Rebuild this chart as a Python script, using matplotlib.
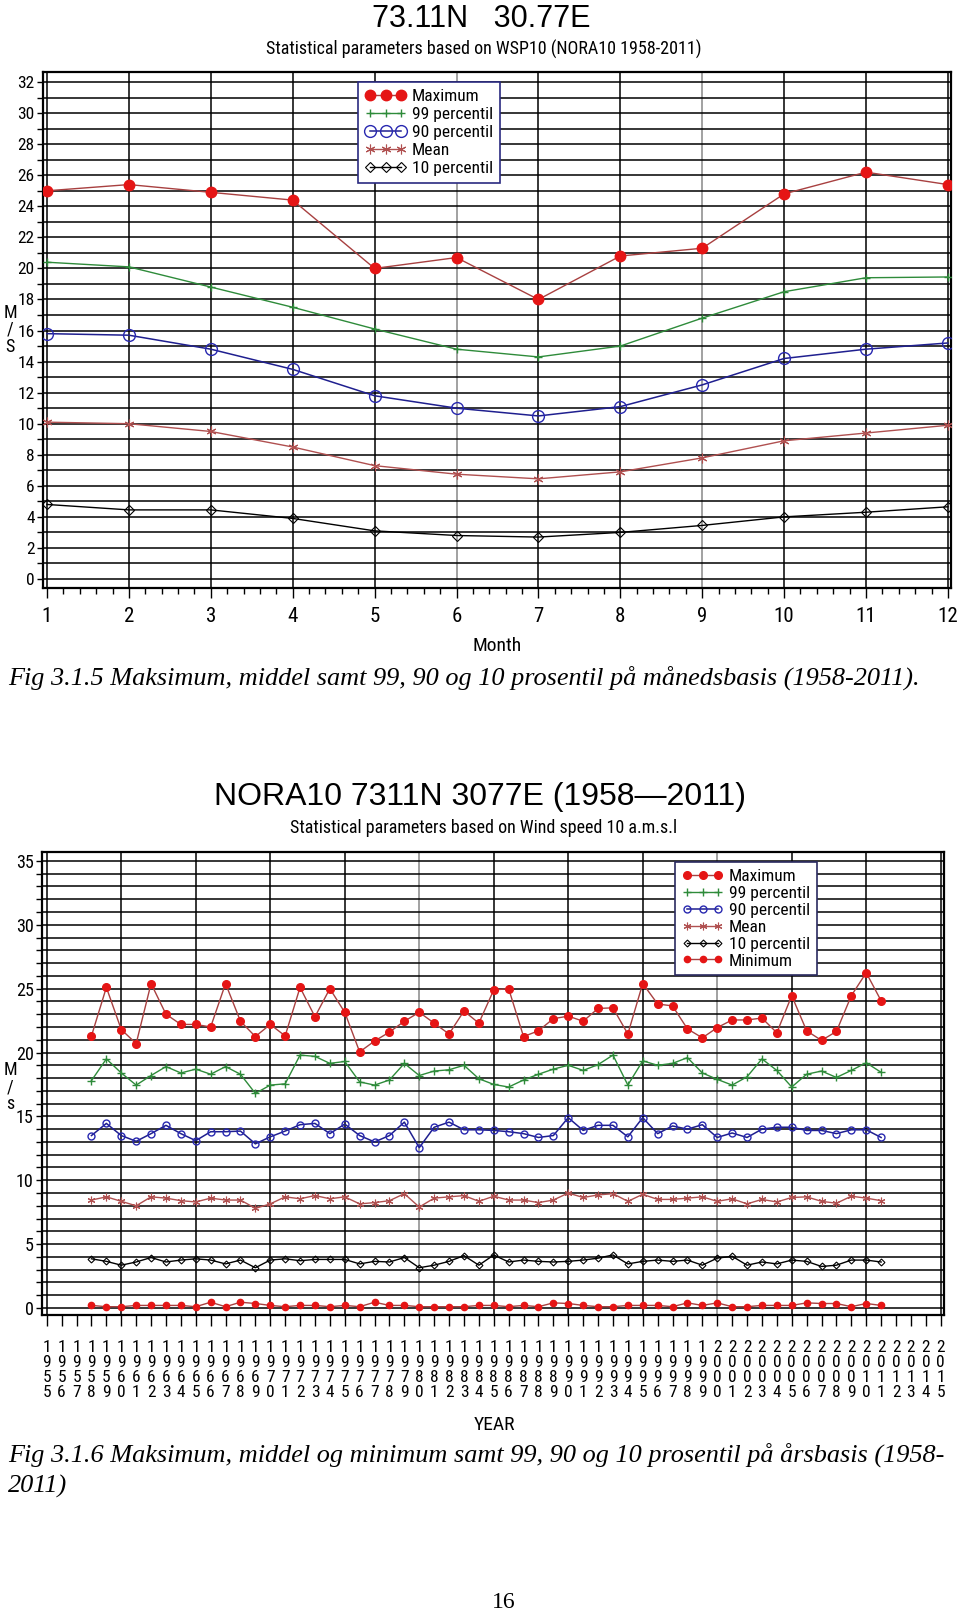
import os
import matplotlib
matplotlib.use("Agg")
import matplotlib.pyplot as plt
import matplotlib.font_manager as fm
from matplotlib.ticker import MultipleLocator

# ---------------- data: monthly (Fig 3.1.5) ----------------
months = list(range(1, 13))
m_max = [25.0, 25.4, 24.9, 24.4, 20.0, 20.7, 18.0, 20.8, 21.3, 24.8, 26.2, 25.4]
m_p99 = [20.4, 20.1, 18.8, 17.5, 16.1, 14.8, 14.3, 15.0, 16.8, 18.5, 19.4, 19.45]
m_p90 = [15.8, 15.7, 14.8, 13.5, 11.8, 11.0, 10.5, 11.1, 12.5, 14.2, 14.8, 15.2]
m_mean = [10.1, 10.0, 9.5, 8.5, 7.3, 6.75, 6.45, 6.9, 7.8, 8.9, 9.4, 9.9]
m_p10 = [4.8, 4.45, 4.45, 3.9, 3.1, 2.8, 2.7, 3.0, 3.45, 4.0, 4.3, 4.65]
month_ticks = list(range(1, 13))
month_yticks = list(range(0, 33, 2))

# ---------------- data: yearly (Fig 3.1.6) ----------------
years = list(range(1958, 2012))
y_max = [21.3, 25.1, 21.8, 20.7, 25.4, 23.0, 22.2, 22.2, 22.0, 25.4,
         22.45, 21.25, 22.2, 21.3, 25.1, 22.8, 25.0, 23.15, 20.05, 20.9,
         21.6, 22.45, 23.15, 22.3, 21.45, 23.25, 22.3, 24.9, 25.0, 21.25,
         21.7, 22.65, 22.85, 22.45, 23.45, 23.5, 21.45, 25.4, 23.8, 23.65,
         21.85, 21.15, 21.95, 22.55, 22.55, 22.7, 21.55, 24.45, 21.7, 20.95,
         21.65, 24.45, 26.25, 24.05]
y_p99 = [17.8, 19.5, 18.4, 17.45, 18.2, 18.9, 18.4, 18.7, 18.3, 18.9,
         18.3, 16.8, 17.45, 17.55, 19.8, 19.7, 19.15, 19.3, 17.7, 17.45,
         17.85, 19.15, 18.2, 18.55, 18.65, 19.0, 17.95, 17.5, 17.3, 17.85,
         18.3, 18.7, 19.0, 18.6, 19.05, 19.8, 17.45, 19.35, 19.0, 19.15,
         19.6, 18.4, 17.9, 17.45, 18.1, 19.5, 18.6, 17.3, 18.3, 18.55,
         18.05, 18.6, 19.2, 18.45]
y_p90 = [13.5, 14.45, 13.5, 13.05, 13.65, 14.3, 13.65, 13.1, 13.8, 13.8,
         13.85, 12.85, 13.4, 13.85, 14.35, 14.45, 13.65, 14.4, 13.5, 13.0,
         13.5, 14.55, 12.55, 14.15, 14.55, 13.95, 13.95, 13.9, 13.8, 13.65,
         13.35, 13.5, 14.9, 13.9, 14.3, 14.3, 13.4, 14.9, 13.65, 14.25,
         14.0, 14.35, 13.35, 13.7, 13.35, 14.0, 14.15, 14.15, 13.9, 13.9,
         13.65, 13.95, 13.95, 13.35]
y_mean = [8.45, 8.7, 8.35, 8.0, 8.7, 8.6, 8.4, 8.3, 8.6, 8.45,
          8.45, 7.8, 8.15, 8.7, 8.55, 8.8, 8.55, 8.7, 8.15, 8.25,
          8.4, 8.95, 7.9, 8.6, 8.7, 8.8, 8.35, 8.75, 8.45, 8.45,
          8.25, 8.45, 9.0, 8.65, 8.85, 8.95, 8.35, 8.9, 8.5, 8.5,
          8.6, 8.7, 8.35, 8.55, 8.15, 8.5, 8.3, 8.65, 8.7, 8.35,
          8.2, 8.75, 8.6, 8.4]
y_p10 = [3.85, 3.65, 3.35, 3.6, 3.95, 3.6, 3.75, 3.85, 3.75, 3.45,
         3.75, 3.15, 3.75, 3.85, 3.7, 3.8, 3.8, 3.8, 3.45, 3.65,
         3.6, 3.95, 3.15, 3.35, 3.65, 4.1, 3.35, 4.15, 3.6, 3.75,
         3.65, 3.6, 3.65, 3.75, 3.9, 4.15, 3.45, 3.65, 3.75, 3.65,
         3.75, 3.35, 3.9, 4.05, 3.35, 3.6, 3.45, 3.75, 3.65, 3.25,
         3.35, 3.75, 3.75, 3.6]
y_min = [0.2, 0.1, 0.1, 0.2, 0.2, 0.2, 0.2, 0.1, 0.45, 0.1,
         0.45, 0.35, 0.2, 0.1, 0.2, 0.2, 0.1, 0.2, 0.1, 0.45,
         0.2, 0.2, 0.1, 0.1, 0.1, 0.1, 0.2, 0.2, 0.1, 0.2,
         0.1, 0.4, 0.35, 0.2, 0.1, 0.1, 0.2, 0.2, 0.2, 0.1,
         0.4, 0.2, 0.4, 0.1, 0.1, 0.2, 0.2, 0.2, 0.4, 0.35,
         0.35, 0.1, 0.35, 0.2]
year_ticks = list(range(1955, 2016))
year_grid = list(range(1955, 2016, 5))
year_yticks = list(range(0, 36, 5))

labels_m = ["Maximum", "99 percentil", "90 percentil", "Mean", "10 percentil"]
labels_y = labels_m + ["Minimum"]

# ---------------- narrow font lookup ----------------
def find_narrow():
    files = {}
    for f in fm.fontManager.ttflist:
        files.setdefault(os.path.basename(f.fname).lower(), f.fname)
    prefs = ["notosans-extracondensed.ttf", "notosans-extracondensedlight.ttf",
             "liberationsansnarrow-regular.ttf", "robotocondensed-regular.ttf",
             "robotocondensed-light.ttf", "opensans_condensed-regular.ttf",
             "opensans-condensedlight.ttf", "notosans-condensed.ttf",
             "dejavusanscondensed.ttf"]
    for p in prefs:
        if p in files:
            return files[p]
    for name, path in files.items():
        if ("condensed" in name or "narrow" in name) and "bold" not in name \
                and "italic" not in name and "oblique" not in name:
            return path
    return None


NARROW_PATH = find_narrow()


def nfont(size):
    if NARROW_PATH:
        return fm.FontProperties(fname=NARROW_PATH, size=size)
    return fm.FontProperties(family="DejaVu Sans", size=size)


# ---------------- styling ----------------
c_maxl, c_maxm = "#a84040", "#e51515"
c_99 = "#2e8b3a"
c_90 = "#1f1f8f"
c_mean = "#b05050"
c_10 = "#000000"
SERIF = ["Liberation Serif", "DejaVu Serif"]

W, H = 960, 1613
fig = plt.figure(figsize=(W / 100, H / 100), dpi=100)


def fx(px):
    return px / W


def fy(py):
    return 1 - py / H


def style_axes(ax, xsize, ysize):
    for s in ax.spines.values():
        s.set_linewidth(1.6)
        s.set_color("black")
    ax.tick_params(axis="both", which="both", direction="out", colors="black",
                   width=1.0)
    for lab in ax.get_xticklabels():
        lab.set_fontproperties(nfont(xsize))
    for lab in ax.get_yticklabels():
        lab.set_fontproperties(nfont(ysize))


# ================= top chart =================
ax1 = fig.add_axes([fx(43), fy(588), fx(908), 516 / H])
ax1.set_xlim(0.951, 12.038)
ax1.set_ylim(-0.58, 32.65)
ax1.set_xticks(month_ticks)
ax1.xaxis.set_minor_locator(MultipleLocator(0.2))
ax1.set_yticks(month_yticks)
ax1.yaxis.set_minor_locator(MultipleLocator(1))
ax1.grid(which="both", axis="y", color="black", lw=1.1)
ax1.grid(which="major", axis="x", color="black", lw=1.1)
for i, gl in enumerate(ax1.get_xgridlines()):
    if month_ticks[i] in (6, 9):
        gl.set_color("#888888")
ax1.tick_params(axis="x", which="major", length=7, pad=7)
ax1.tick_params(axis="x", which="minor", length=4)
ax1.tick_params(axis="y", which="both", length=4, pad=2)
style_axes(ax1, 15, 12.5)

ax1.plot(months, m_max, color=c_maxl, lw=1.0, marker="o", ms=7.5,
         mfc=c_maxm, mec=c_maxm, label=labels_m[0], zorder=5)
ax1.plot(months, m_p99, color=c_99, lw=1.0, marker="+", ms=6,
         mew=1.0, label=labels_m[1], zorder=5)
ax1.plot(months, m_p90, color=c_90, lw=1.1, marker="o", ms=8.5,
         mfc="none", mec="#2828b0", mew=1.0, label=labels_m[2], zorder=5)
ax1.plot(months, m_mean, color=c_mean, lw=1.0, marker=(6, 2, 0), ms=7,
         mew=0.8, label=labels_m[3], zorder=5)
ax1.plot(months, m_p10, color=c_10, lw=1.0, marker="D", ms=5,
         mfc="none", mec="black", mew=0.8, label=labels_m[4], zorder=5)

leg1 = ax1.legend(loc="upper left", bbox_to_anchor=(fx(358), fy(82)),
                  bbox_transform=fig.transFigure, numpoints=3,
                  handlelength=2.4, handletextpad=0.3, labelspacing=0.16,
                  borderpad=0.4, borderaxespad=0, fancybox=False,
                  framealpha=1, edgecolor="#2a2a80", prop=nfont(12.5))
leg1.get_frame().set_linewidth(1.2)
leg1.set_zorder(10)

fig.text(fx(10), fy(330), "M\n/\nS", ha="center", va="center",
         fontproperties=nfont(13), linespacing=0.95)
fig.text(fx(497), fy(646), "Month", ha="center", va="center",
         fontproperties=nfont(14))
fig.text(fx(481), fy(19), "73.11N   30.77E", ha="center", va="center",
         family=["Liberation Sans", "DejaVu Sans"], fontsize=22)
fig.text(fx(484), fy(49), "Statistical parameters based on WSP10 (NORA10 1958-2011)",
         ha="center", va="center", fontproperties=nfont(13))

fig.text(fx(8), fy(685), "Fig 3.1.5 Maksimum, middel samt 99, 90 og 10 prosentil "
         "på månedsbasis (1958-2011).", ha="left", va="baseline",
         family=SERIF, style="italic", fontsize=18.9)

# ================= bottom chart =================
ax2 = fig.add_axes([fx(42), fy(1315), fx(902), 463 / H])
ax2.set_xlim(1954.68, 2015.22)
ax2.set_ylim(-0.55, 35.7)
ax2.set_xticks(year_ticks)
ax2.set_xticklabels(["\n".join(str(y)) for y in year_ticks])
ax2.set_yticks(year_yticks)
ax2.yaxis.set_minor_locator(MultipleLocator(1))
ax2.grid(which="both", axis="y", color="black", lw=1.1)
for yr in year_grid:
    ax2.axvline(yr, color="#888888" if yr in (1980, 2000) else "black",
                lw=1.1, zorder=0.5)
ax2.tick_params(axis="x", which="major", length=8, pad=10)
ax2.tick_params(axis="y", which="both", length=4, pad=2)
style_axes(ax2, 12.5, 13)
for lab in ax2.get_xticklabels():
    lab.set_linespacing(1.0)

ax2.plot(years, y_max, color=c_maxl, lw=1.0, marker="o", ms=5.5,
         mfc=c_maxm, mec=c_maxm, label=labels_y[0], zorder=5)
ax2.plot(years, y_p99, color=c_99, lw=1.0, marker="+", ms=5.5,
         mew=1.0, label=labels_y[1], zorder=5)
ax2.plot(years, y_p90, color=c_90, lw=1.1, marker="o", ms=5,
         mfc="none", mec="#2828b0", mew=1.0, label=labels_y[2], zorder=5)
ax2.plot(years, y_mean, color=c_mean, lw=1.0, marker=(6, 2, 0), ms=5.5,
         mew=0.8, label=labels_y[3], zorder=5)
ax2.plot(years, y_p10, color=c_10, lw=1.0, marker="D", ms=3.5,
         mfc="none", mec="black", mew=0.8, label=labels_y[4], zorder=5)
ax2.plot(years, y_min, color=c_maxl, lw=1.0, marker="o", ms=4.5,
         mfc=c_maxm, mec=c_maxm, label=labels_y[5], zorder=5)

leg2 = ax2.legend(loc="upper left", bbox_to_anchor=(fx(675), fy(862)),
                  bbox_transform=fig.transFigure, numpoints=3,
                  handlelength=2.4, handletextpad=0.3, labelspacing=0.1,
                  borderpad=0.4, borderaxespad=0, fancybox=False,
                  framealpha=1, edgecolor="#2a2a60", prop=nfont(12.5))
leg2.get_frame().set_linewidth(1.2)
leg2.set_zorder(10)

fig.text(fx(10), fy(1087), "M\n/\ns", ha="center", va="center",
         fontproperties=nfont(13), linespacing=0.95)
fig.text(fx(494), fy(1425), "YEAR", ha="center", va="center",
         fontproperties=nfont(14))
fig.text(fx(480), fy(797), "NORA10 7311N 3077E (1958\u20142011)", ha="center",
         va="center", family=["Liberation Sans", "DejaVu Sans"], fontsize=23)
fig.text(fx(484), fy(828), "Statistical parameters based on Wind speed 10 a.m.s.l",
         ha="center", va="center", fontproperties=nfont(13))

fig.text(fx(8), fy(1462), "Fig 3.1.6 Maksimum, middel og minimum samt 99, 90 og 10 "
         "prosentil på årsbasis (1958-", ha="left", va="baseline",
         family=SERIF, style="italic", fontsize=18.9)
fig.text(fx(8), fy(1493), "2011)", ha="left", va="baseline",
         family=SERIF, style="italic", fontsize=18.9)

fig.text(fx(504), fy(1602), "16", ha="center", va="center",
         family=SERIF, fontsize=17)

fig.savefig("out.png", dpi=100, facecolor="white")
